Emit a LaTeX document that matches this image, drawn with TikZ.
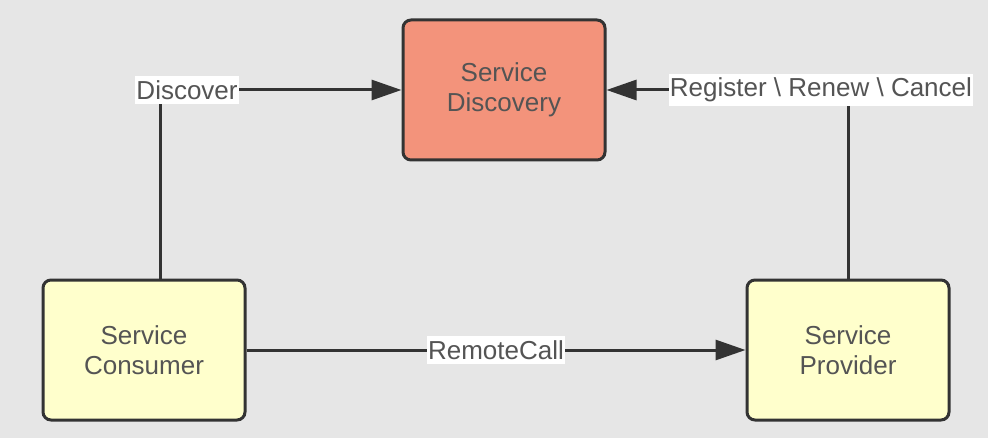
\documentclass[tikz,border=0pt]{standalone}
\usepackage{fontspec}
\setmainfont{Liberation Sans}
\usetikzlibrary{arrows.meta,positioning,calc}
\definecolor{bggray}{HTML}{E6E6E6}
\definecolor{salmon}{HTML}{F3937B}
\definecolor{paleyellow}{HTML}{FFFFCC}
\definecolor{edgegray}{HTML}{333333}
\definecolor{textgray}{HTML}{545454}

\begin{document}
\begin{tikzpicture}[x=0.5pt, y=-0.5pt,
    service/.style={draw=edgegray, line width=1.5pt, rounded corners=4pt,
        minimum width=101pt, minimum height=70pt, inner sep=0pt, align=center,
        text=textgray, font=\fontsize{13}{15}\selectfont,
        execute at begin node=\rule{0pt}{15pt}},
    flow/.style={draw=edgegray, line width=1.5pt, -{Triangle[length=15pt,width=10pt]}},
    edgelabel/.style={fill=white, text=textgray, inner xsep=0.5pt, inner ysep=2pt,
        font=\fontsize{13}{15}\selectfont}]

        \path[fill=bggray] (0,0) rectangle (988,438);

        \node[service, fill=salmon] (discovery) at (504,90) {Service\\Discovery};
        \node[service, fill=paleyellow] (consumer) at (144,350) {Service\\Consumer};
        \node[service, fill=paleyellow] (provider) at (848,350) {Service\\Provider};

        \draw[flow] ([xshift=8pt]consumer.north) |- node[edgelabel, pos=0.556]{Discover} (discovery.west);
        \draw[flow] (provider.north) |- node[edgelabel, pos=0.556]{Register \textbackslash{} Renew \textbackslash{} Cancel} (discovery.east);
        \draw[flow] (consumer) -- node[edgelabel]{RemoteCall} (provider);
    \end{tikzpicture}
\end{document}
